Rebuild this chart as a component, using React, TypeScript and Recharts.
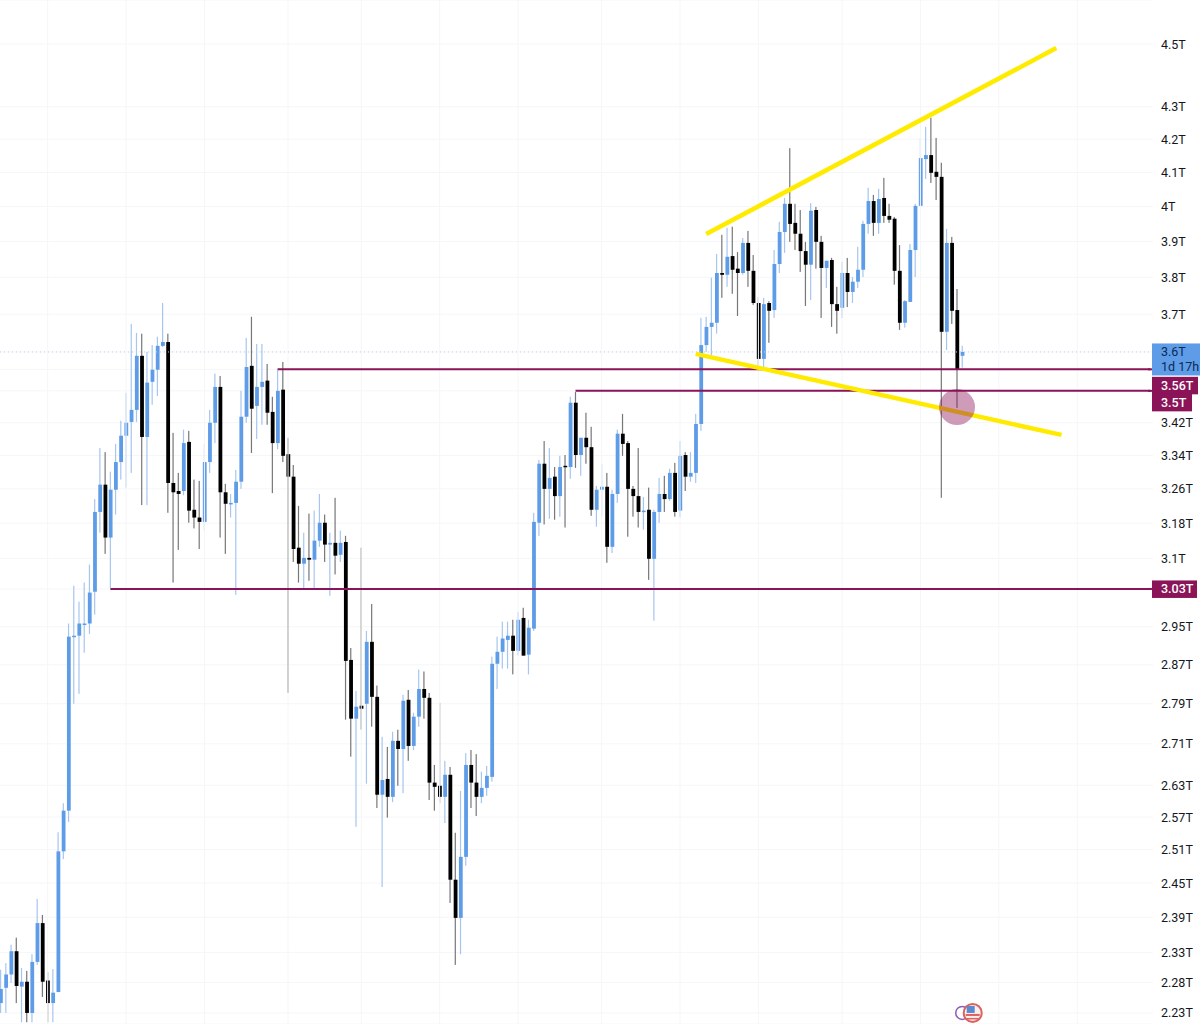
import { Bar, CartesianGrid, ComposedChart, ReferenceDot, ReferenceLine, XAxis, YAxis } from "recharts"

// prices in trillions, one candle per slot
const opens = [
  2.246, 2.271, 2.293, 2.332, 2.273, 2.281, 2.230, 2.314, 2.380, 2.283,
  2.246, 2.264, 2.507, 2.582, 2.929, 2.931, 2.955, 2.957, 3.026, 3.206,
  3.270, 3.147, 3.258, 3.324, 3.388, 3.422, 3.452, 3.590, 3.385, 3.523,
  3.554, 3.616, 3.626, 3.274, 3.255, 3.255, 3.373, 3.211, 3.193, 3.183,
  3.324, 3.420, 3.510, 3.252, 3.225, 3.227, 3.277, 3.435, 3.564, 3.462,
  3.510, 3.526, 3.447, 3.370, 3.503, 3.343, 3.289, 3.124, 3.088, 3.101,
  3.097, 3.140, 3.181, 3.131, 3.135, 3.108, 3.137, 2.880, 2.760, 2.786,
  2.790, 2.918, 2.804, 2.612, 2.642, 2.608, 2.716, 2.700, 2.798, 2.706,
  2.764, 2.820, 2.802, 2.635, 2.629, 2.608, 2.650, 2.456, 2.389, 2.497,
  2.669, 2.635, 2.608, 2.625, 2.646, 2.872, 2.897, 2.922, 2.931, 2.899,
  2.969, 2.891, 2.946, 3.181, 3.320, 3.260, 3.289, 3.243, 3.315, 3.312,
  3.470, 3.341, 3.383, 3.360, 3.211, 3.258, 3.265, 3.126, 3.248, 3.393,
  3.370, 3.260, 3.243, 3.206, 3.211, 3.099, 3.206, 3.248, 3.236, 3.298,
  3.209, 3.341, 3.289, 3.298, 3.417, 3.618, 3.666, 3.677, 3.812, 3.807,
  3.859, 3.824, 3.812, 3.896, 3.818, 3.730, 3.582, 3.730, 3.711, 3.837,
  3.927, 4.008, 3.953, 3.922, 3.873, 3.835, 3.990, 3.899, 3.826, 3.848,
  3.727, 3.717, 3.812, 3.760, 3.788, 3.821, 3.950, 4.016, 3.953, 4.025,
  3.973, 3.965, 3.818, 3.677, 3.733, 3.876, 4.002, 4.140, 4.152, 4.102,
  4.087, 3.653, 3.896, 3.711, 3.590,
]

const closes = [
  2.269, 2.293, 2.332, 2.274, 2.281, 2.230, 2.314, 2.380, 2.281, 2.246,
  2.263, 2.507, 2.582, 2.929, 2.931, 2.957, 2.957, 3.024, 3.206, 3.270,
  3.147, 3.258, 3.324, 3.388, 3.420, 3.452, 3.590, 3.385, 3.521, 3.554,
  3.616, 3.626, 3.274, 3.252, 3.248, 3.370, 3.209, 3.193, 3.183, 3.324,
  3.420, 3.510, 3.252, 3.225, 3.227, 3.277, 3.435, 3.561, 3.455, 3.510,
  3.523, 3.445, 3.370, 3.500, 3.339, 3.289, 3.121, 3.088, 3.101, 3.097,
  3.140, 3.181, 3.131, 3.135, 3.106, 3.135, 2.878, 2.760, 2.784, 2.780,
  2.918, 2.804, 2.612, 2.640, 2.608, 2.716, 2.700, 2.796, 2.706, 2.764,
  2.820, 2.802, 2.635, 2.627, 2.608, 2.650, 2.456, 2.389, 2.497, 2.669,
  2.635, 2.608, 2.625, 2.648, 2.872, 2.897, 2.925, 2.931, 2.899, 2.965,
  2.889, 2.948, 3.183, 3.320, 3.260, 3.286, 3.243, 3.312, 3.312, 3.470,
  3.341, 3.383, 3.360, 3.211, 3.258, 3.265, 3.126, 3.248, 3.393, 3.368,
  3.260, 3.243, 3.206, 3.209, 3.099, 3.206, 3.248, 3.236, 3.298, 3.206,
  3.339, 3.289, 3.298, 3.417, 3.618, 3.666, 3.677, 3.812, 3.807, 3.857,
  3.821, 3.812, 3.896, 3.818, 3.730, 3.582, 3.727, 3.709, 3.837, 3.927,
  4.008, 3.950, 3.922, 3.873, 3.835, 3.988, 3.899, 3.826, 3.846, 3.727,
  3.709, 3.812, 3.760, 3.788, 3.821, 3.950, 4.016, 3.953, 4.022, 3.973,
  3.962, 3.818, 3.677, 3.735, 3.876, 4.002, 4.143, 4.152, 4.099, 4.087,
  3.653, 3.896, 3.709, 3.556, 3.600,
]

const highs = [
  2.301, 2.312, 2.343, 2.355, 2.304, 2.299, 2.327, 2.422, 2.394, 2.297,
  2.302, 2.542, 2.596, 2.957, 3.039, 3.004, 3.046, 3.086, 3.236, 3.358,
  3.348, 3.301, 3.368, 3.425, 3.495, 3.674, 3.650, 3.648, 3.600, 3.618,
  3.640, 3.730, 3.648, 3.395, 3.298, 3.403, 3.400, 3.282, 3.279, 3.368,
  3.452, 3.544, 3.538, 3.272, 3.248, 3.305, 3.500, 3.637, 3.693, 3.621,
  3.621, 3.569, 3.485, 3.554, 3.574, 3.383, 3.317, 3.220, 3.158, 3.202,
  3.209, 3.248, 3.200, 3.158, 3.239, 3.163, 3.151, 2.905, 2.816, 3.124,
  2.941, 2.999, 2.827, 2.724, 2.704, 2.734, 2.738, 2.808, 2.818, 2.772,
  2.860, 2.856, 2.812, 2.669, 2.792, 2.677, 2.665, 2.541, 2.619, 2.692,
  2.698, 2.690, 2.656, 2.667, 2.887, 2.929, 2.961, 2.961, 2.965, 2.982,
  2.991, 2.965, 3.204, 3.329, 3.375, 3.358, 3.312, 3.339, 3.341, 3.485,
  3.497, 3.383, 3.445, 3.410, 3.267, 3.320, 3.298, 3.258, 3.403, 3.442,
  3.375, 3.267, 3.358, 3.241, 3.263, 3.211, 3.286, 3.291, 3.308, 3.322,
  3.375, 3.348, 3.348, 3.442, 3.690, 3.693, 3.799, 3.865, 3.919, 3.939,
  3.942, 3.870, 3.910, 3.930, 3.862, 3.746, 3.744, 3.735, 3.876, 3.956,
  4.025, 4.173, 4.008, 3.990, 3.899, 4.010, 3.999, 3.916, 3.846, 3.854,
  3.774, 3.843, 3.854, 3.801, 3.885, 3.959, 4.055, 4.034, 4.052, 4.084,
  4.008, 3.970, 3.890, 3.738, 3.893, 4.008, 4.204, 4.238, 4.266, 4.204,
  4.129, 3.936, 3.913, 3.768, 3.616,
]

const lows = [
  2.230, 2.230, 2.279, 2.246, 2.215, 2.215, 2.215, 2.309, 2.256, 2.215,
  2.215, 2.264, 2.493, 2.561, 2.790, 2.810, 2.895, 2.935, 2.976, 3.158,
  3.110, 3.034, 3.200, 3.282, 3.263, 3.298, 3.422, 3.222, 3.222, 3.465,
  3.487, 3.613, 3.204, 3.046, 3.119, 3.245, 3.181, 3.168, 3.121, 3.163,
  3.298, 3.370, 3.147, 3.110, 3.193, 3.019, 3.260, 3.420, 3.346, 3.380,
  3.415, 3.415, 3.250, 3.355, 3.324, 2.812, 3.092, 3.046, 3.034, 3.050,
  3.034, 3.126, 3.092, 3.017, 3.064, 3.092, 2.758, 2.685, 2.552, 2.738,
  2.633, 2.744, 2.587, 2.443, 2.569, 2.598, 2.629, 2.615, 2.677, 2.698,
  2.744, 2.760, 2.602, 2.582, 2.596, 2.559, 2.415, 2.309, 2.327, 2.481,
  2.587, 2.572, 2.596, 2.610, 2.637, 2.820, 2.862, 2.862, 2.850, 2.889,
  2.889, 2.850, 2.941, 3.151, 3.177, 3.190, 3.188, 3.195, 3.170, 3.284,
  3.310, 3.291, 3.320, 3.197, 3.172, 3.195, 3.090, 3.112, 3.227, 3.339,
  3.149, 3.195, 3.170, 3.165, 3.052, 2.963, 3.181, 3.206, 3.232, 3.195,
  3.193, 3.255, 3.277, 3.274, 3.400, 3.600, 3.592, 3.648, 3.744, 3.774,
  3.755, 3.695, 3.807, 3.774, 3.725, 3.561, 3.561, 3.624, 3.690, 3.812,
  3.868, 3.899, 3.876, 3.815, 3.722, 3.738, 3.824, 3.690, 3.771, 3.666,
  3.648, 3.690, 3.719, 3.730, 3.771, 3.801, 3.922, 3.916, 3.922, 3.953,
  3.953, 3.780, 3.658, 3.664, 3.733, 3.801, 4.002, 4.081, 4.069, 4.019,
  3.239, 3.605, 3.674, 3.457, 3.559,
]

const axisTicks = [
  4.5, 4.3, 4.2, 4.1, 4, 3.9, 3.8, 3.7, 3.42, 3.34, 3.26, 3.18, 3.1, 2.95, 2.87, 2.79, 2.71, 2.63, 2.57, 2.51, 2.45,
  2.39, 2.33, 2.28, 2.23,
]
const lastPrice = 3.6
const countdown = "1d 17h"
const levels = [
  { price: 3.555, from: 53, label: "3.56T", shift: 16, boxWidth: 46 },
  { price: 3.5, from: 110, label: "3.5T", shift: 11.5, boxWidth: 40 },
  { price: 3.032, from: 21, label: "3.03T", shift: 0, boxWidth: 45 },
]
const upperTrend = [
  { x: 135, y: 3.921 },
  { x: 202, y: 4.487 },
]
const lowerTrend = [
  { x: 133, y: 3.595 },
  { x: 203, y: 3.39 },
]
const gridSlots = [9, 24, 39, 55, 69, 84, 99, 115, 130, 145, 161, 176, 191, 206]
const SLOT_COUNT = 221
const PRICE_DOMAIN = [2.2122, 4.6458]

const UP = "#5e9ce8"
const UP_WICK = "#a6c6f0"
const DOWN = "#000000"
const DOWN_WICK = "#777777"
const LEVEL = "#8a1457"
const TREND = "#ffeb00"

const rows = Array.from({ length: SLOT_COUNT }, (_, i) =>
  i < opens.length
    ? {
        slot: i,
        up: closes[i] >= opens[i],
        wick: [lows[i], highs[i]],
        body: [Math.min(opens[i], closes[i]), Math.max(opens[i], closes[i])],
      }
    : { slot: i },
)

const CandleWick = ({ x, y, width, height, payload }: any) =>
  payload.wick ? <rect x={x} y={y} width={width} height={height} fill={payload.up ? UP_WICK : DOWN_WICK} /> : <g />

const CandleBody = ({ x, y, width, height, payload }: any) =>
  payload.body ? (
    <rect x={x} y={y} width={width} height={Math.max(height, 1.5)} fill={payload.up ? UP : DOWN} />
  ) : (
    <g />
  )

const PriceTick = ({ x, y, payload }: any) => {
  const textX = x - 6
  const left = x - 15
  if (payload.value === lastPrice) {
    return (
      <g fontFamily="Roboto" fontSize={12.5}>
        <rect x={left} y={y - 8.5} width={48} height={32} fill={UP} />
        <text x={textX} y={y + 4.5} fill="#0b2a55">
          3.6T
        </text>
        <text x={textX} y={y + 19} fill="#0b2a55">
          {countdown}
        </text>
      </g>
    )
  }
  const level = levels.find((l) => l.price === payload.value)
  if (level) {
    return (
      <g fontFamily="Roboto" fontSize={12.5} fontWeight={500}>
        <rect x={left - 4} y={y - 1} width={4} height={2} fill={LEVEL} />
        <rect x={left} y={y + level.shift - 8.5} width={level.boxWidth} height={17.5} fill={LEVEL} />
        <text x={textX} y={y + level.shift + 4.5} fill="#ffffff">
          {level.label}
        </text>
      </g>
    )
  }
  return (
    <text x={textX} y={y + 4.5} fill="#131722" fontFamily="Roboto" fontSize={12.5}>
      {payload.value}T
    </text>
  )
}

const Ring = ({ cx, cy }: any) => <circle cx={cx} cy={cy} r={6.5} fill="#ffffff" stroke="#8e5bb5" strokeWidth={1.5} />

const Flag = ({ cx, cy }: any) => (
  <g>
    <circle cx={cx} cy={cy} r={9} fill="#fbeeee" stroke="#d9635f" strokeWidth={2} />
    <rect x={cx - 7} y={cy + 1} width={14} height={2} fill="#d9635f" />
    <rect x={cx - 6} y={cy + 5} width={12} height={1.5} fill="#d9635f" />
    <rect x={cx - 6} y={cy - 7} width={8} height={7} fill="#5a8ad0" />
  </g>
)

export default function App() {
  return (
    <div style={{ position: "absolute", left: 0, top: 0, width: 1200, height: 1024, overflow: "hidden", background: "#fff" }}>
      <div style={{ marginLeft: -2 }}>
        <ComposedChart width={1202} height={1024} data={rows} margin={{ top: 0, right: 0, bottom: 0, left: 0 }}>
          <CartesianGrid vertical={false} stroke="#f5f6f8" />
          <XAxis dataKey="slot" hide />
          <XAxis dataKey="slot" xAxisId="wick" hide />
          <YAxis
            orientation="right"
            scale="log"
            domain={PRICE_DOMAIN}
            allowDataOverflow
            width={47}
            ticks={[...axisTicks, lastPrice, ...levels.map((l) => l.price)]}
            interval={0}
            axisLine={false}
            tickLine={false}
            tick={<PriceTick />}
            tickMargin={8}
          />
          {gridSlots.map((s) => (
            <ReferenceLine key={s} x={s} stroke="#f5f6f8" />
          ))}
          <ReferenceLine y={lastPrice} stroke="#bcd2ee" strokeDasharray="1 3" />
          <Bar dataKey="wick" xAxisId="wick" barSize={1.2} shape={<CandleWick />} isAnimationActive={false} />
          <Bar dataKey="body" barSize={3.8} shape={<CandleBody />} isAnimationActive={false} />
          {levels.map((l) => (
            <ReferenceLine
              key={l.price}
              segment={[
                { x: l.from, y: l.price },
                { x: SLOT_COUNT - 1, y: l.price },
              ]}
              stroke={LEVEL}
              strokeWidth={2}
            />
          ))}
          <ReferenceLine segment={upperTrend} stroke={TREND} strokeWidth={4.5} />
          <ReferenceLine segment={lowerTrend} stroke={TREND} strokeWidth={4.5} />
          <ReferenceDot x={183} y={3.459} r={18} fill={LEVEL} fillOpacity={0.42} stroke="none" />
          <ReferenceDot x={184} y={2.23} shape={<Ring />} />
          <ReferenceDot x={186} y={2.23} shape={<Flag />} />
        </ComposedChart>
      </div>
    </div>
  )
}
